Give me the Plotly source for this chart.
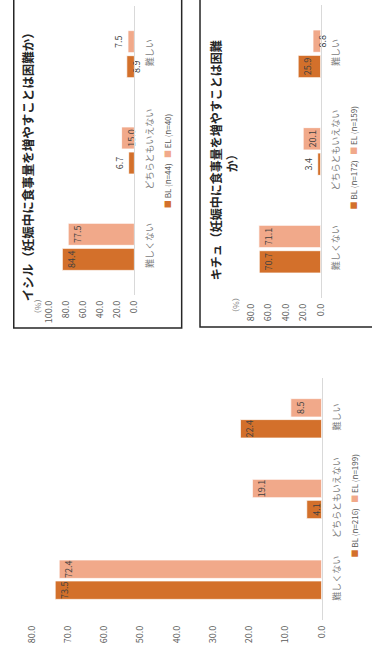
import plotly.graph_objects as go

# Survey answers: is it difficult to increase food intake during pregnancy? (%)
categories = ["難しくない", "どちらともいえない", "難しい"]

ishiru_bl = [84.4, 6.7, 8.9]
ishiru_el = [77.5, 15.0, 7.5]
ishiru_names = ["BL (n=44)", "EL (n=40)"]

kichu_bl = [70.7, 3.4, 25.9]
kichu_el = [71.1, 20.1, 8.8]
kichu_names = ["BL (n=172)", "EL (n=159)"]

total_bl = [73.5, 4.1, 22.4]
total_el = [72.4, 19.1, 8.5]
total_names = ["BL (n=216)", "EL (n=199)"]

W, H = 372, 659
FONT = "Noto Sans CJK JP"
C_BL = "#D3702B"
C_EL = "#F1A98A"
TXT = "#404040"
GRAY = "#595959"
LIGHT = "#808080"


def px(x):
    return x / W


def py(y):
    return 1 - y / H


panels = [
    dict(bl=ishiru_bl, el=ishiru_el, names=ishiru_names, rmax=100, dtick=20,
         xdom=[px(43.5), px(132)], ydom=[py(295), py(6)]),
    dict(bl=kichu_bl, el=kichu_el, names=kichu_names, rmax=80, dtick=20,
         xdom=[px(253), px(325)], ydom=[py(298), py(5)]),
    dict(bl=total_bl, el=total_el, names=total_names, rmax=80, dtick=10,
         xdom=[px(25.5), px(326)], ydom=[py(620), py(378)]),
]

fig = go.Figure()
layout = {}

for i, p in enumerate(panels):
    sfx = "" if i == 0 else str(i + 1)
    xa, ya = "x" + sfx, "y" + sfx
    ppu = (p["xdom"][1] - p["xdom"][0]) * W / p["rmax"]
    for vals, color, name in ((p["bl"], C_BL, p["names"][0]), (p["el"], C_EL, p["names"][1])):
        fig.add_trace(go.Bar(
            x=vals, y=categories, orientation="h", name=name,
            marker=dict(color=color, line=dict(color="white", width=0.8)),
            texttemplate="%{x:.1f}",
            textposition=["inside" if v * ppu >= 7.5 else "outside" for v in vals],
            insidetextanchor="end", textangle=-90, constraintext="none",
            textfont=dict(family=FONT, size=9, color=TXT),
            cliponaxis=False, showlegend=False,
            xaxis=xa, yaxis=ya,
        ))
    layout["xaxis" + sfx] = dict(
        domain=p["xdom"], anchor=ya, range=[p["rmax"], 0],
        tickmode="linear", tick0=0, dtick=p["dtick"], tickformat=".1f",
        tickangle=-90, showgrid=False, zeroline=False, showline=False, ticks="",
        ticklabelstandoff=3,
        tickfont=dict(family=FONT, size=9, color=GRAY), fixedrange=True,
    )
    layout["yaxis" + sfx] = dict(
        domain=p["ydom"], anchor=xa, side="right", type="category",
        categoryorder="array", categoryarray=categories,
        showline=True, linecolor="#D9D9D9", linewidth=1, ticks="",
        ticklabelstandoff=7,
        tickangle=-90, showgrid=False, zeroline=False,
        tickfont=dict(family=FONT, size=9, color=LIGHT), fixedrange=True,
    )

fig.update_layout(
    width=W, height=H, autosize=False,
    margin=dict(l=0, r=0, t=0, b=0),
    paper_bgcolor="white", plot_bgcolor="rgba(0,0,0,0)",
    barmode="group", bargap=0.48, bargroupgap=0.12,
    uniformtext=dict(minsize=9, mode="show"),
    font=dict(family=FONT, color=TXT),
    **layout,
)


def legend_text(names):
    return (f"<span style='color:{C_BL}'>■</span> {names[0]}&nbsp;&nbsp;&nbsp;"
            f"<span style='color:{C_EL}'>■</span> {names[1]}")


annotations = [
    # panel titles
    dict(x=px(22), y=py(164), text="<b>イシル（妊娠中に食事量を増やすことは困難か）</b>",
         font=dict(size=12.5, color="#262626")),
    dict(x=px(225), y=py(160),
         text="<b>キチュ（妊娠中に食事量を増やすことは困難<br>か）</b>",
         font=dict(size=12, color="#262626")),
    # unit labels
    dict(x=px(32), y=py(306), text="（%）", font=dict(size=8, color="#7F7F7F")),
    dict(x=px(237), y=py(305), text="（%）", font=dict(size=8, color="#7F7F7F")),
    # legends
    dict(x=px(167), y=py(161), text=legend_text(ishiru_names), font=dict(size=8, color=GRAY)),
    dict(x=px(360), y=py(158), text=legend_text(kichu_names), font=dict(size=8, color=GRAY)),
    dict(x=px(360), y=py(506), text=legend_text(total_names), font=dict(size=8, color=GRAY)),
]
for a in annotations:
    a.update(xref="paper", yref="paper", showarrow=False, textangle=-90,
             xanchor="center", yanchor="middle")
    a["font"]["family"] = FONT
fig.update_layout(annotations=annotations)

# panel frames
frame = dict(type="rect", xref="paper", yref="paper",
             line=dict(color="#262626", width=1.5), fillcolor="rgba(0,0,0,0)")
fig.update_layout(shapes=[
    dict(frame, x0=px(7), x1=px(181), y0=py(328), y1=py(-10)),
    dict(frame, x0=px(200), x1=px(380), y0=py(327), y1=py(-10)),
])

fig.write_html("out.html")
